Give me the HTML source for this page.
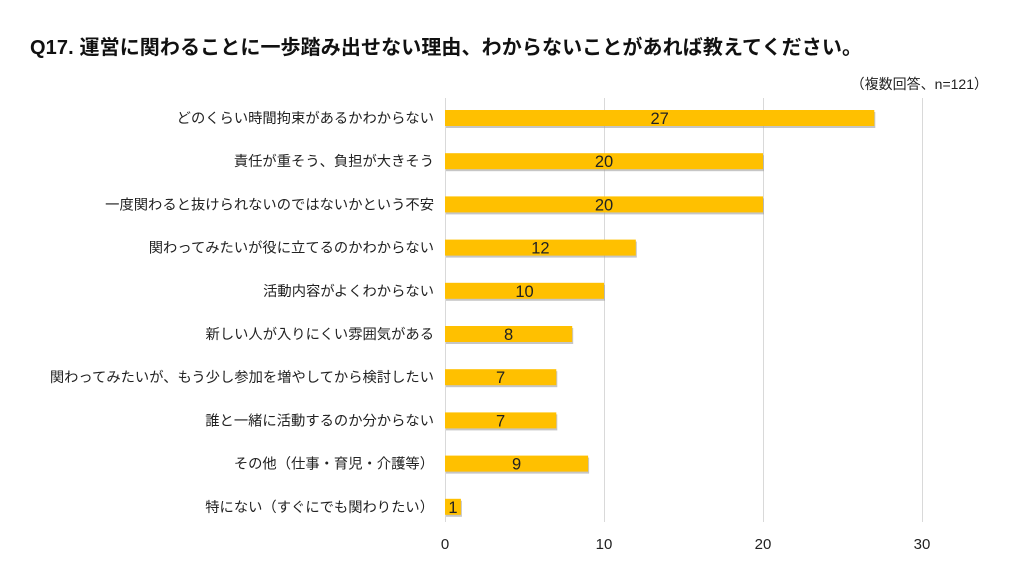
<!DOCTYPE html>
<html><head><meta charset="utf-8"><style>
body{margin:0;width:1024px;height:576px;background:#fff;overflow:hidden;font-family:"Liberation Sans","Noto Sans CJK JP",sans-serif;}
</style></head><body>
<svg width="1024" height="576" xmlns="http://www.w3.org/2000/svg" style="font-family:'Liberation Sans','Noto Sans CJK JP',sans-serif">
<text x="30" y="54" font-size="20" font-weight="bold" fill="#111" textLength="832" lengthAdjust="spacing">Q17.  運営に関わることに一歩踏み出せない理由、わからないことがあれば教えてください。</text>
<text x="988" y="89" font-size="14" fill="#222" text-anchor="end">（複数回答、n=121）</text>
<g stroke="#d9d9d9" stroke-width="1">
<line x1="445.5" y1="98" x2="445.5" y2="522"/>
<line x1="604.5" y1="98" x2="604.5" y2="522"/>
<line x1="763.5" y1="98" x2="763.5" y2="522"/>
<line x1="922.5" y1="98" x2="922.5" y2="522"/>
</g>
<g font-size="15" fill="#222" text-anchor="middle">
<text x="445" y="549">0</text><text x="604" y="549">10</text><text x="763" y="549">20</text><text x="922" y="549">30</text>
</g>
<g id="bars"></g>
</svg>
<script>
var d=[["どのくらい時間拘束があるかわからない",27],["責任が重そう、負担が大きそう",20],["一度関わると抜けられないのではないかという不安",20],["関わってみたいが役に立てるのかわからない",12],["活動内容がよくわからない",10],["新しい人が入りにくい雰囲気がある",8],["関わってみたいが、もう少し参加を増やしてから検討したい",7],["誰と一緒に活動するのか分からない",7],["その他（仕事・育児・介護等）",9],["特にない（すぐにでも関わりたい）",1]];
var g=document.getElementById("bars"),s="",u=15.9;
d.forEach(function(r,i){var c=118+i*43.2,w=r[1]*u;
s+='<rect x="446" y="'+(c-6)+'" width="'+w+'" height="16" fill="#a0a0a0" opacity="0.6"/>';
s+='<rect x="445" y="'+(c-8)+'" width="'+w+'" height="16" fill="#FFC000"/>';
s+='<text x="'+(445+w/2)+'" y="'+(c+6)+'" font-size="16.5" fill="#222" text-anchor="middle">'+r[1]+'</text>';
s+='<text x="434" y="'+(c+5)+'" font-size="14.3" fill="#222" text-anchor="end">'+r[0]+'</text>';});
g.innerHTML=s;
</script>
</body></html>
